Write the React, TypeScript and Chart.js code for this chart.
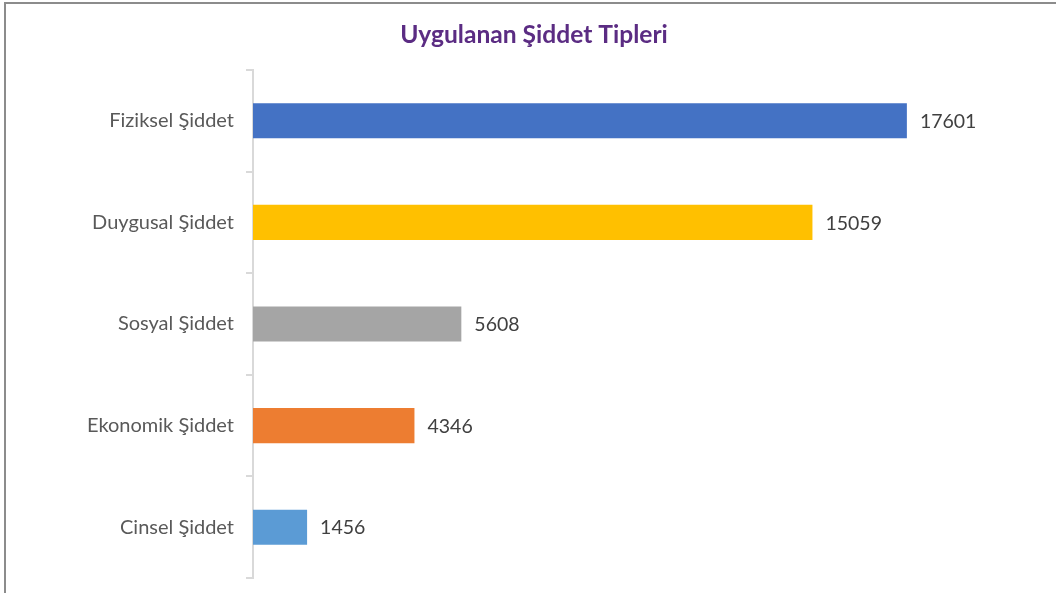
import React, { useEffect, useRef } from "react";
import { Chart, registerables } from "chart.js";

Chart.register(...registerables);

const categories = ["Fiziksel Şiddet", "Duygusal Şiddet", "Sosyal Şiddet", "Ekonomik Şiddet", "Cinsel Şiddet"];
const values = [17601, 15059, 5608, 4346, 1456];
const colors = ["#4472C4", "#FFC000", "#A5A5A5", "#ED7D31", "#5B9BD5"];
const titleText = "Uygulanan Şiddet Tipleri";

const dataLabels = {
  id: "dataLabels",
  afterDatasetsDraw(chart: any) {
    const ctx = chart.ctx;
    const meta = chart.getDatasetMeta(0);
    ctx.save();
    ctx.font = "19.5px Lato";
    ctx.fillStyle = "#404040";
    ctx.textAlign = "left";
    ctx.textBaseline = "middle";
    meta.data.forEach((bar: any, i: number) => {
      ctx.fillText(String(values[i]), bar.x + 13, bar.y + 1);
    });
    ctx.restore();
  },
};

const titlePlugin = {
  id: "customTitle",
  afterDraw(chart: any) {
    const ctx = chart.ctx;
    ctx.save();
    ctx.font = "bold 24.6px Lato";
    ctx.fillStyle = "#5B2C83";
    ctx.textAlign = "center";
    ctx.textBaseline = "middle";
    ctx.fillText(titleText, 534, 35);
    ctx.restore();
  },
};

export default function App() {
  const ref = useRef<HTMLCanvasElement>(null);
  useEffect(() => {
    document.body.style.margin = "0";
    const chart = new Chart(ref.current!, {
      type: "bar",
      data: {
        labels: categories,
        datasets: [
          {
            data: values,
            backgroundColor: colors,
            barPercentage: 0.345,
            categoryPercentage: 1,
          },
        ],
      },
      options: {
        indexAxis: "y",
        animation: false,
        responsive: false,
        layout: { padding: { top: 70, bottom: 15, right: 60, left: 0 } },
        plugins: {
          legend: { display: false },
          tooltip: { enabled: false },
          title: { display: false },
        },
        scales: {
          x: { display: false, min: 0, max: 20000 },
          y: {
            afterFit(scale: any) {
              scale.width = 253;
              scale.paddingTop = 0;
              scale.paddingBottom = 0;
            },
            border: { display: true, color: "#D9D9D9", width: 2 },
            grid: {
              display: true,
              drawOnChartArea: false,
              drawTicks: true,
              tickLength: 7,
              color: "#D9D9D9",
              lineWidth: 2,
              offset: true,
            },
            ticks: {
              color: "#595959",
              font: { family: "Lato", size: 20 },
              padding: 12,
            },
          },
        },
      },
      plugins: [dataLabels, titlePlugin],
    });
    return () => chart.destroy();
  }, []);
  return (
    <div style={{ position: "relative", width: 1056, height: 593, background: "#fff" }}>
      <canvas ref={ref} width={1056} height={593} style={{ position: "absolute", left: 0, top: 0 }} />
      <div
        style={{
          position: "absolute",
          left: 4,
          top: 2,
          width: 1052,
          height: 591,
          borderTop: "2px solid #8C8C8C",
          borderLeft: "2px solid #8C8C8C",
          boxSizing: "border-box",
          pointerEvents: "none",
        }}
      />
    </div>
  );
}
